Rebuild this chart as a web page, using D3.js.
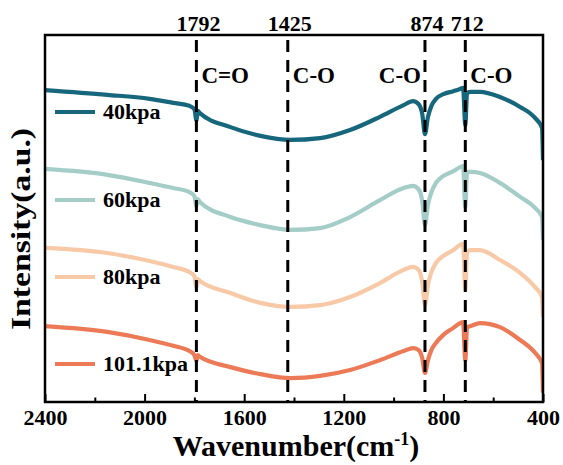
<!DOCTYPE html>
<html>
<head>
<meta charset="utf-8">
<script src="https://cdn.jsdelivr.net/npm/d3@7"></script>
<style>
  html, body { margin: 0; padding: 0; background: #fff; }
  svg { display: block; }
  text { font-family: "Liberation Serif", "Times New Roman", serif; font-weight: bold; fill: #000; }
</style>
</head>
<body>
<svg id="chart" width="563" height="465"></svg>
<script>
// FTIR spectra (relative intensity, arbitrary units) sampled along the wavenumber axis
const wavenumbers = [2400, 2150, 1980, 1885, 1820, 1800, 1792, 1786, 1778, 1655, 1535, 1415, 1295, 1175, 1055,
  960, 922, 900, 885, 874, 862, 848, 830, 800, 760, 733, 721, 712, 705, 690, 653, 573, 492, 432, 404, 400];

const kpa40 = [85.0, 83.7, 82.6, 81.5, 80.7, 79.8, 76.8, 79.3, 78.7, 74.9, 72.5, 71.4, 71.9, 74.1, 77.7,
  80.9, 82.0, 81.2, 78.5, 73.0, 77.7, 80.7, 82.6, 83.9, 84.7, 85.3, 85.6, 75.5, 84.2, 84.5, 84.5, 83.1, 80.4, 77.4, 74.7, 65.9];

const kpa60 = [63.5, 61.9, 59.7, 58.3, 57.2, 56.1, 53.4, 55.3, 54.5, 50.4, 48.2, 46.9, 47.4, 50.4, 55.0,
  58.3, 58.9, 58.0, 54.8, 48.2, 53.7, 57.2, 59.7, 61.6, 62.9, 64.0, 64.3, 53.1, 62.7, 62.7, 62.4, 59.7, 55.9, 52.9, 50.4, 44.1];

const kpa80 = [42.0, 40.6, 38.4, 36.8, 35.4, 34.3, 31.1, 33.5, 33.0, 29.7, 27.0, 25.9, 26.4, 28.6, 32.4,
  36.0, 36.8, 36.0, 32.7, 26.4, 31.9, 35.4, 37.9, 39.8, 41.4, 42.8, 43.1, 30.5, 40.9, 41.4, 41.4, 38.7, 35.2, 31.3, 28.6, 23.2];

const kpa101 = [20.7, 19.1, 16.9, 15.3, 13.9, 12.8, 11.2, 12.8, 12.3, 9.5, 7.6, 6.5, 7.1, 8.7, 11.4,
  13.9, 14.7, 14.2, 12.0, 7.9, 11.4, 14.2, 16.1, 18.3, 20.2, 21.5, 21.8, 11.4, 20.4, 20.7, 21.5, 20.4, 16.9, 13.4, 10.6, 2.5];

const seriesNames = ["40kpa", "60kpa", "80kpa", "101.1kpa"];
const seriesColors = ["#17677c", "#a3cdc6", "#f8c9a7", "#ed7a57"];
const seriesValues = [kpa40, kpa60, kpa80, kpa101];

// Characteristic bands marked with dashed lines
const bandPositions = [1792, 1425, 874, 712];
const bandLabels = ["1792", "1425", "874", "712"];
const bondLabels = ["C=O", "C-O", "C-O", "C-O"];
const bondSide = ["right", "right", "left", "right"];

const xTickValues = [2400, 2200, 2000, 1800, 1600, 1400, 1200, 1000, 800, 600, 400];
const xTickLabels = ["2400", "2000", "1600", "1200", "800", "400"];

// Layout
const plot = { left: 45, right: 543, top: 35, bottom: 402 };
const legendRows = [112, 200, 277, 364];

const svg = d3.select("#chart");

const x = d3.scaleLinear().domain([2400, 400]).range([plot.left, plot.right]);
const y = d3.scaleLinear().domain([0, 100]).range([plot.bottom, plot.top]);

// Clip for spectra
svg.append("defs").append("clipPath").attr("id", "plotClip")
  .append("rect")
  .attr("x", plot.left).attr("y", plot.top)
  .attr("width", plot.right - plot.left).attr("height", plot.bottom - plot.top);

// Spectra
const line = d3.line()
  .x((d, i) => x(wavenumbers[i]))
  .y(d => y(d))
  .curve(d3.curveMonotoneX);

svg.append("g").attr("clip-path", "url(#plotClip)")
  .selectAll("path")
  .data(seriesValues)
  .join("path")
  .attr("d", d => line(d))
  .attr("fill", "none")
  .attr("stroke", (d, i) => seriesColors[i])
  .attr("stroke-width", 4.2)
  .attr("stroke-linejoin", "round");

// Dashed band markers
svg.append("g").selectAll("line")
  .data(bandPositions)
  .join("line")
  .attr("x1", d => x(d)).attr("x2", d => x(d))
  .attr("y1", plot.top + 5).attr("y2", plot.bottom)
  .attr("stroke", "#000")
  .attr("stroke-width", 3)
  .attr("stroke-dasharray", "12,8");

// Band wavenumber labels above the frame
svg.append("g").selectAll("text")
  .data(bandPositions)
  .join("text")
  .attr("x", d => x(d) + 2)
  .attr("y", 31)
  .attr("text-anchor", "middle")
  .attr("font-size", 22)
  .text((d, i) => bandLabels[i]);

// Bond labels beside the dashed lines
svg.append("g").selectAll("text")
  .data(bandPositions)
  .join("text")
  .attr("x", (d, i) => bondSide[i] === "right" ? x(d) + 5 : x(d) - 4)
  .attr("y", 83)
  .attr("text-anchor", (d, i) => bondSide[i] === "right" ? "start" : "end")
  .attr("font-size", 23)
  .text((d, i) => bondLabels[i]);

// Bottom axis with inward ticks
const xAxis = d3.axisBottom(x)
  .tickValues(xTickValues)
  .tickSizeInner(-8)
  .tickSizeOuter(0)
  .tickPadding(7)
  .tickFormat(d => xTickLabels.includes(String(d)) ? String(d) : "");

const gx = svg.append("g")
  .attr("transform", `translate(0,${plot.bottom})`)
  .call(xAxis);
gx.select(".domain").remove();
gx.selectAll(".tick line")
  .attr("stroke", "#000")
  .attr("stroke-width", 2)
  .attr("y2", d => xTickLabels.includes(String(d)) ? -8 : -4.5);
gx.selectAll(".tick text")
  .attr("font-size", 22)
  .style("font-family", "'Liberation Serif', 'Times New Roman', serif")
  .style("font-weight", "bold")
  .attr("fill", "#000");

// Frame
svg.append("rect")
  .attr("x", plot.left).attr("y", plot.top)
  .attr("width", plot.right - plot.left).attr("height", plot.bottom - plot.top)
  .attr("fill", "none")
  .attr("stroke", "#000")
  .attr("stroke-width", 2.5);

// Legend
const legend = svg.append("g").selectAll("g")
  .data(seriesNames)
  .join("g")
  .attr("transform", (d, i) => `translate(0,${legendRows[i]})`);
legend.append("line")
  .attr("x1", 55).attr("x2", 95)
  .attr("stroke", (d, i) => seriesColors[i])
  .attr("stroke-width", 4);
legend.append("text")
  .attr("x", 103).attr("y", 7)
  .attr("font-size", 22)
  .text(d => d);

// Axis titles
const xTitle = svg.append("text")
  .attr("x", 296).attr("y", 456)
  .attr("text-anchor", "middle")
  .attr("font-size", 30);
xTitle.append("tspan").text("Wavenumber(cm");
xTitle.append("tspan").attr("dy", -11).attr("font-size", 18).text("-1");
xTitle.append("tspan").attr("dy", 11).text(")");

svg.append("text")
  .attr("transform", "translate(30,229) rotate(-90)")
  .attr("text-anchor", "middle")
  .attr("font-size", 28)
  .attr("textLength", 202)
  .attr("lengthAdjust", "spacingAndGlyphs")
  .text("Intensity(a.u.)");
</script>
</body>
</html>
